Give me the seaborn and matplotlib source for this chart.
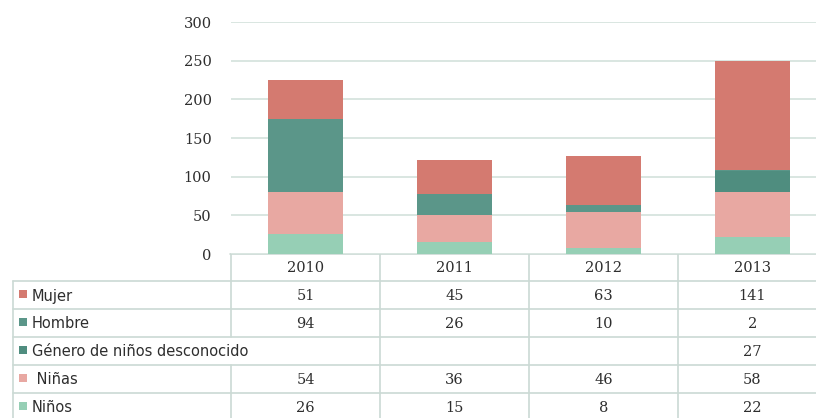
import matplotlib
matplotlib.use("Agg")
import matplotlib.pyplot as plt
import numpy as np
import pandas as pd
import seaborn as sns

years = ["2010", "2011", "2012", "2013"]
series = ["Mujer", "Hombre", "Género de niños desconocido", " Niñas", "Niños"]
mujer = [51, 45, 63, 141]
hombre = [94, 26, 10, 2]
genero = [np.nan, np.nan, np.nan, 27]
ninas = [54, 36, 46, 58]
ninos = [26, 15, 8, 22]

colors = ["#d47a70", "#5b9689", "#4f8d7f", "#e8a8a2", "#96cfb5"]

df = pd.DataFrame(
    {"Año": years, "Mujer": mujer, "Hombre": hombre, "Genero": genero,
     "Ninas": ninas, "Ninos": ninos}
)

# stacked from the bottom: Niños, Niñas, Género, Hombre, Mujer
stack_cols = ["Ninos", "Ninas", "Genero", "Hombre", "Mujer"]
cum = df[stack_cols].fillna(0).cumsum(axis=1)

sns.set_theme(style="white")
plt.rcParams["font.family"] = ["DejaVu Sans"]

W, H = 816, 418
fig = plt.figure(figsize=(W / 100, H / 100), dpi=100)

col_left, col_w = 231, 149
y_zero, y_top = 254, 22
ax = fig.add_axes([col_left / W, (H - y_zero) / H, 4 * col_w / W, (y_zero - y_top) / H])

# draw tallest first so each lower segment overlays it
for col, color in zip(reversed(stack_cols), colors):
    sns.barplot(x=df["Año"], y=cum[col], color=color, saturation=1,
                width=0.51, ax=ax, zorder=3, linewidth=0, edgecolor="none")

ax.set_ylim(0, 300)
ax.set_yticks(range(0, 301, 50))
ax.set_xlim(-0.5, 3.5)
ax.set_xlabel("")
ax.set_ylabel("")
ax.set_xticks([])
ax.yaxis.grid(True, color="#d3e1dc", lw=1.2, zorder=0)
for s in ax.spines.values():
    s.set_visible(False)
ax.tick_params(axis="y", length=0, pad=14, labelsize=10.5, labelcolor="#2e2e2e")
for lab in ax.get_yticklabels():
    lab.set_fontfamily("DejaVu Serif")

# data table below the chart, in pixel coordinates
tax = fig.add_axes([0, 0, 1, 1], zorder=-1)
tax.set_xlim(0, W)
tax.set_ylim(H, 0)
tax.axis("off")

line_c = "#cbd9d4"
row_top, row_h = 281, 28
right = col_left + 4 * col_w
tax.plot([col_left - 1, right], [y_zero, y_zero], color=line_c, lw=1.2)
for j in range(len(series) + 1):
    y = row_top + j * row_h
    tax.plot([13, right], [y, y], color=line_c, lw=1.2)
tax.plot([13, 13], [row_top, H], color=line_c, lw=1.2)
for i in range(4):
    x = col_left + i * col_w
    if i == 0:
        # label text of the third row runs over this line
        tax.plot([x, x], [y_zero, row_top + 2 * row_h], color=line_c, lw=1.2)
        tax.plot([x, x], [row_top + 3 * row_h, H], color=line_c, lw=1.2)
    else:
        tax.plot([x, x], [y_zero, H], color=line_c, lw=1.2)

for i, yr in enumerate(years):
    tax.text(col_left + (i + 0.5) * col_w, (y_zero + row_top) / 2 + 1, yr,
             ha="center", va="center", fontsize=10.5, family="DejaVu Serif",
             color="#2e2e2e")

table_vals = [mujer, hombre, genero, ninas, ninos]
for j, (name, vals, color) in enumerate(zip(series, table_vals, colors)):
    yc = row_top + j * row_h + row_h / 2 + 1
    tax.scatter([22.5], [yc - 2], marker="s", s=32, color=color, lw=0)
    tax.text(32, yc, name, ha="left", va="center", fontsize=10.5,
             family="DejaVu Sans", color="#2e2e2e")
    for i, v in enumerate(vals):
        if pd.isna(v):
            continue
        tax.text(col_left + (i + 0.5) * col_w, yc, str(int(v)), ha="center",
                 va="center", fontsize=10.5, family="DejaVu Serif", color="#2e2e2e")

fig.savefig("out.png", dpi=100)
